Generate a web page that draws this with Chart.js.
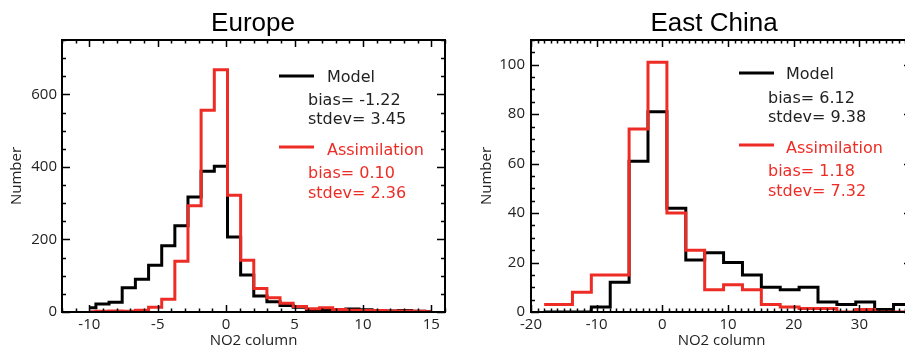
<!DOCTYPE html>
<html>
<head>
<meta charset="utf-8">
<script src="https://cdn.jsdelivr.net/npm/chart.js@4"></script>
<style>
  html, body { margin: 0; padding: 0; background: #fff; overflow: hidden; }
  canvas { position: absolute; top: 0; }
  #europe { left: 0; }
  #china { left: 452px; }
</style>
</head>
<body>
<canvas id="europe" width="452" height="348"></canvas>
<canvas id="china" width="460" height="348"></canvas>
<script>
// Europe: histogram bin centres (NO2 column) and counts
var euBins = [-10, -9.04, -8.08, -7.12, -6.15, -5.19, -4.23, -3.27, -2.31, -1.35, -0.38, 0.58, 1.54,
              2.5, 3.46, 4.42, 5.38, 6.35, 7.31, 8.27, 9.23, 10.19, 11.15, 12.12, 13.08, 14.04, 15];
var euModel = [12, 22, 27, 67, 90, 129, 183, 238, 317, 388, 402, 207, 102,
               44, 28, 18, 13, 6, 7, 6, 8, 6, 4, 3, 4, 2, 1];
var euAssim = [1, 2, 3, 2, 5, 13, 35, 140, 293, 556, 668, 322, 143,
               65, 39, 24, 15, 9, 12, 7, 5, 4, 4, 3, 3, 2, 1];
var euXTicks = [-10, -5, 0, 5, 10, 15];
var euYTicks = [0, 200, 400, 600];

// East China
var chBins = [-18, -15.13, -12.25, -9.38, -6.5, -3.63, -0.75, 2.13, 5, 7.88, 10.75,
              13.63, 16.5, 19.38, 22.25, 25.13, 28, 30.88, 33.75, 36.63, 39.5];
var chModel = [0, 0, 0, 2, 12, 61, 81, 42, 21, 24, 20, 15, 10, 9, 10, 4, 3, 4, 1, 3, 3];
var chAssim = [3, 3, 8, 15, 15, 74, 101, 40, 25, 9, 11, 9, 3, 2, 1.4, 1.4, 0, 1, 0, 0, 0];
var chXTicks = [-20, -10, 0, 10, 20, 30];
var chYTicks = [0, 20, 40, 60, 80, 100];

var RED = '#ee2c26';
var TXT = '#222';
var AXFONT = '"Open Sans", sans-serif';

function pts(xs, ys) {
  return xs.map(function (x, i) { return { x: x, y: ys[i] }; });
}

// IDL-like box with inward ticks, title and the text legend
var boxPlot = {
  id: 'boxPlot',
  afterDatasetsDraw: function (chart, args, o) {
    var ctx = chart.ctx, a = chart.chartArea;
    var sx = chart.scales.x, sy = chart.scales.y;
    ctx.save();
    ctx.strokeStyle = '#000';

    ctx.lineWidth = 1.5;
    ctx.beginPath();
    var i, v, p, len;
    var n0 = Math.ceil(sx.min / o.xMinor), n1 = Math.floor(sx.max / o.xMinor);
    for (i = n0; i <= n1; i++) {
      v = i * o.xMinor;
      p = Math.round(sx.getPixelForValue(v)) + 0.5;
      len = (Math.abs(v % o.xMajor) < 1e-6) ? 7 : 3.5;
      ctx.moveTo(p, a.bottom); ctx.lineTo(p, a.bottom - len);
      ctx.moveTo(p, a.top); ctx.lineTo(p, a.top + len);
    }
    n0 = Math.ceil(sy.min / o.yMinor); n1 = Math.floor(sy.max / o.yMinor);
    for (i = n0; i <= n1; i++) {
      v = i * o.yMinor;
      p = Math.round(sy.getPixelForValue(v)) + 0.5;
      len = (Math.abs(v % o.yMajor) < 1e-6) ? 8 : 4;
      ctx.moveTo(a.left, p); ctx.lineTo(a.left + len, p);
      ctx.moveTo(a.right, p); ctx.lineTo(a.right - len, p);
    }
    ctx.stroke();

    ctx.lineWidth = 2;
    ctx.strokeRect(a.left, a.top, a.right - a.left, a.bottom - a.top);

    ctx.fillStyle = '#000';
    ctx.font = '26px "Liberation Sans", Arial, sans-serif';
    ctx.textAlign = 'center';
    ctx.textBaseline = 'alphabetic';
    ctx.fillText(o.title, o.titleX, 31);

    var L = o.legend;
    ctx.lineWidth = 3;
    ctx.textAlign = 'left';
    ctx.font = '16px "DejaVu Sans", sans-serif';
    [[L.model, '#000', TXT], [L.assim, RED, RED]].forEach(function (e) {
      var it = e[0];
      ctx.strokeStyle = e[1];
      ctx.beginPath();
      ctx.moveTo(L.lineX, it.lineY); ctx.lineTo(L.lineX + 35, it.lineY);
      ctx.stroke();
      ctx.fillStyle = e[2];
      ctx.fillText(it.name, L.nameX, it.nameY);
      ctx.fillText(it.bias, L.textX, it.biasY);
      ctx.fillText(it.stdev, L.textX, it.stdevY);
    });
    ctx.restore();
  }
};

function makeChart(id, bins, model, assim, xr, yr, xt, yt, yWidth, yTitlePad, yPad, rightPad, box) {
  return new Chart(document.getElementById(id), {
    type: 'line',
    data: {
      datasets: [{
        label: 'Model',
        data: pts(bins, model),
        borderColor: '#000',
        borderWidth: 3,
        stepped: 'middle',
        pointRadius: 0,
        fill: false,
        order: 1
      }, {
        label: 'Assimilation',
        data: pts(bins, assim),
        borderColor: RED,
        borderWidth: 3,
        stepped: 'middle',
        pointRadius: 0,
        fill: false,
        order: 0
      }]
    },
    options: {
      responsive: false,
      animation: false,
      layout: { padding: { top: 40, right: rightPad, left: 0, bottom: 0 } },
      plugins: { legend: { display: false }, tooltip: { enabled: false }, boxPlot: box },
      scales: {
        x: {
          type: 'linear',
          min: xr[0], max: xr[1],
          grid: { display: false, drawTicks: false },
          border: { display: false },
          afterBuildTicks: function (s) { s.ticks = xt.map(function (v) { return { value: v }; }); },
          afterFit: function (s) { s.height = 36; },
          ticks: { color: TXT, padding: 4, font: { family: AXFONT, size: 15 } },
          title: {
            display: true, text: 'NO2 column', color: TXT,
            padding: { top: 0, bottom: 0 },
            font: { family: AXFONT, size: 15, lineHeight: 1 }
          }
        },
        y: {
          min: yr[0], max: yr[1],
          grid: { display: false, drawTicks: false },
          border: { display: false },
          afterBuildTicks: function (s) { s.ticks = yt.map(function (v) { return { value: v }; }); },
          afterFit: function (s) { s.width = yWidth; },
          ticks: { color: TXT, padding: yPad, font: { family: AXFONT, size: 15 } },
          title: {
            display: true, text: 'Number', color: TXT,
            padding: { top: yTitlePad, bottom: 0 },
            font: { family: AXFONT, size: 15 }
          }
        }
      }
    },
    plugins: [boxPlot]
  });
}

makeChart('europe', euBins, euModel, euAssim, [-12, 16], [0, 750], euXTicks, euYTicks, 62, 8, 5, 7, {
  title: 'Europe', titleX: 253,
  xMinor: 1, xMajor: 5, yMinor: 50, yMajor: 200,
  legend: {
    lineX: 279, nameX: 327, textX: 308,
    model: { name: 'Model', bias: 'bias= -1.22', stdev: 'stdev= 3.45', lineY: 76, nameY: 82, biasY: 105, stdevY: 124 },
    assim: { name: 'Assimilation', bias: 'bias= 0.10', stdev: 'stdev= 2.36', lineY: 147, nameY: 155, biasY: 178, stdevY: 198 }
  }
});

makeChart('china', chBins, chModel, chAssim, [-20, 38], [0, 110], chXTicks, chYTicks, 79, 25.5, 6, 0, {
  title: 'East China', titleX: 262,
  xMinor: 1, xMajor: 10, yMinor: 5, yMajor: 20,
  legend: {
    lineX: 287, nameX: 334, textX: 316,
    model: { name: 'Model', bias: 'bias= 6.12', stdev: 'stdev= 9.38', lineY: 73, nameY: 79, biasY: 103, stdevY: 122 },
    assim: { name: 'Assimilation', bias: 'bias= 1.18', stdev: 'stdev= 7.32', lineY: 145, nameY: 153, biasY: 176, stdevY: 196 }
  }
});
</script>
</body>
</html>
